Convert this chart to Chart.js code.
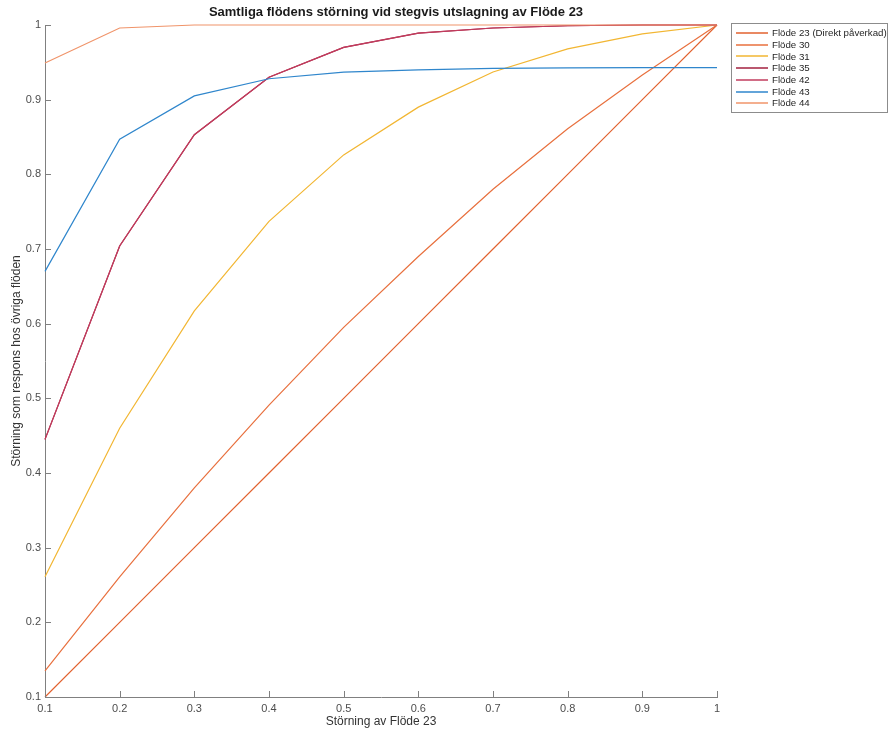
<!DOCTYPE html>
<html>
<head>
<meta charset="utf-8">
<script src="https://cdn.jsdelivr.net/npm/chart.js@4/dist/chart.umd.min.js"></script>
<style>
html, body { margin: 0; padding: 0; background: #fff; }
#wrap { width: 889px; height: 733px; }
</style>
</head>
<body>
<div id="wrap"><canvas id="chart" width="889" height="733"></canvas></div>
<script>

// x = Störning av Flöde 23
const xValues = [0.1, 0.2, 0.3, 0.4, 0.5, 0.6, 0.7, 0.8, 0.9, 1.0];

const flode23 = [0.1, 0.2, 0.3, 0.4, 0.5, 0.6, 0.7, 0.8, 0.9, 1.0];
const flode30 = [0.135, 0.261, 0.38, 0.491, 0.595, 0.69, 0.78, 0.861, 0.933, 1.0];
const flode31 = [0.261, 0.46, 0.617, 0.737, 0.826, 0.89, 0.937, 0.968, 0.988, 1.0];
const flode35 = [0.445, 0.704, 0.853, 0.93, 0.97, 0.989, 0.996, 0.999, 1.0, 1.0];
const flode42 = [0.445, 0.704, 0.853, 0.93, 0.97, 0.989, 0.996, 0.999, 1.0, 1.0];
const flode43 = [0.67, 0.847, 0.905, 0.928, 0.937, 0.94, 0.942, 0.9425, 0.943, 0.943];
const flode44 = [0.949, 0.996, 1.0, 1.0, 1.0, 1.0, 1.0, 1.0, 1.0, 1.0];

const seriesLabels = [
    "Flöde 23 (Direkt påverkad)",
    "Flöde 30",
    "Flöde 31",
    "Flöde 35",
    "Flöde 42",
    "Flöde 43",
    "Flöde 44"
];

const xTickValues = [0.1, 0.2, 0.3, 0.4, 0.5, 0.6, 0.7, 0.8, 0.9, 1];
const yTickValues = [0.1, 0.2, 0.3, 0.4, 0.5, 0.6, 0.7, 0.8, 0.9, 1];

const titleText = "Samtliga flödens störning vid stegvis utslagning av Flöde 23";
const xTitle = "Störning av Flöde 23";
const yTitle = "Störning som respons hos övriga flöden";

const colors = ["#E2622F", "#E8703E", "#F2B632", "#A3203F", "#C23C5E", "#2F86CC", "#F0946A"];
const allSeries = [flode23, flode30, flode31, flode35, flode42, flode43, flode44];

const FONT = "'Liberation Sans', Arial, sans-serif";

function toPoints(ys) {
    return xValues.map((x, i) => ({ x: x, y: ys[i] }));
}

function fmt(v) {
    return String(Number(v.toFixed(1)));
}

/* =========================
      PLUGINS
========================= */

// inward ticks, title and boxed legend
const decorations = {
    id: "decorations",
    afterDraw(chart) {
        const ctx = chart.ctx;
        const xs = chart.scales.x;
        const ys = chart.scales.y;
        const area = chart.chartArea;

        ctx.save();
        ctx.strokeStyle = "#808080";
        ctx.lineWidth = 1;
        ctx.beginPath();
        xs.ticks.forEach(t => {
            const px = Math.round(xs.getPixelForValue(t.value)) + 0.5;
            ctx.moveTo(px, area.bottom);
            ctx.lineTo(px, area.bottom - 6);
        });
        ys.ticks.forEach(t => {
            const py = Math.round(ys.getPixelForValue(t.value)) + 0.5;
            ctx.moveTo(area.left, py);
            ctx.lineTo(area.left + 6, py);
        });
        ctx.stroke();

        // title
        ctx.fillStyle = "#1a1a1a";
        ctx.font = "bold 13px " + FONT;
        ctx.textAlign = "center";
        ctx.textBaseline = "middle";
        ctx.fillText(titleText, 396, 12);

        // legend
        const bx = 731, by = 23, bw = 156, bh = 89;
        ctx.fillStyle = "#fff";
        ctx.fillRect(bx, by, bw, bh);
        ctx.strokeStyle = "#8c8c8c";
        ctx.lineWidth = 1;
        ctx.strokeRect(bx + 0.5, by + 0.5, bw, bh);
        ctx.font = "9.7px " + FONT;
        ctx.textAlign = "left";
        chart.data.datasets.forEach((ds, i) => {
            const y = 33 + i * 11.7;
            ctx.strokeStyle = ds.borderColor;
            ctx.lineWidth = 1.5;
            ctx.beginPath();
            ctx.moveTo(736, Math.round(y));
            ctx.lineTo(768, Math.round(y));
            ctx.stroke();
            ctx.fillStyle = "#262626";
            ctx.fillText(ds.label, 772, y + 0.5);
        });
        ctx.restore();
    }
};

/* =========================
      CHART
========================= */

new Chart(document.getElementById("chart"), {
    type: "line",
    data: {
        datasets: allSeries.map((s, i) => ({
            label: seriesLabels[i],
            data: toPoints(s),
            borderColor: colors[i],
            backgroundColor: colors[i],
            borderWidth: 1.2,
            pointRadius: 0,
            tension: 0,
            fill: false,
            clip: 4,
            order: allSeries.length - i
        }))
    },
    options: {
        responsive: false,
        animation: false,
        layout: {
            padding: { left: 0, right: 172, top: 25, bottom: 0 }
        },
        plugins: {
            legend: { display: false },
            title: { display: false },
            tooltip: { enabled: false }
        },
        scales: {
            x: {
                type: "linear",
                min: 0.1,
                max: 1,
                afterBuildTicks: s => { s.ticks = xTickValues.map(v => ({ value: v })); },
                afterFit: s => { s.height = 36; },
                grid: { display: false, drawTicks: false },
                border: { color: "#808080", width: 1 },
                ticks: {
                    padding: 5,
                    maxRotation: 0,
                    color: "#4d4d4d",
                    font: { family: FONT, size: 11 },
                    callback: v => fmt(v)
                },
                title: {
                    display: true,
                    text: xTitle,
                    color: "#333",
                    font: { family: FONT, size: 12 },
                    padding: { top: 0, bottom: 4 }
                }
            },
            y: {
                type: "linear",
                min: 0.1,
                max: 1,
                afterBuildTicks: s => { s.ticks = yTickValues.map(v => ({ value: v })); },
                afterFit: s => { s.width = 45; },
                grid: { display: false, drawTicks: false },
                border: { color: "#808080", width: 1 },
                ticks: {
                    padding: 4,
                    color: "#4d4d4d",
                    font: { family: FONT, size: 11 },
                    callback: v => fmt(v)
                },
                title: {
                    display: true,
                    text: yTitle,
                    color: "#333",
                    font: { family: FONT, size: 12 },
                    padding: { top: 9, bottom: 0 }
                }
            }
        }
    },
    plugins: [decorations]
});
</script>
</body>
</html>
